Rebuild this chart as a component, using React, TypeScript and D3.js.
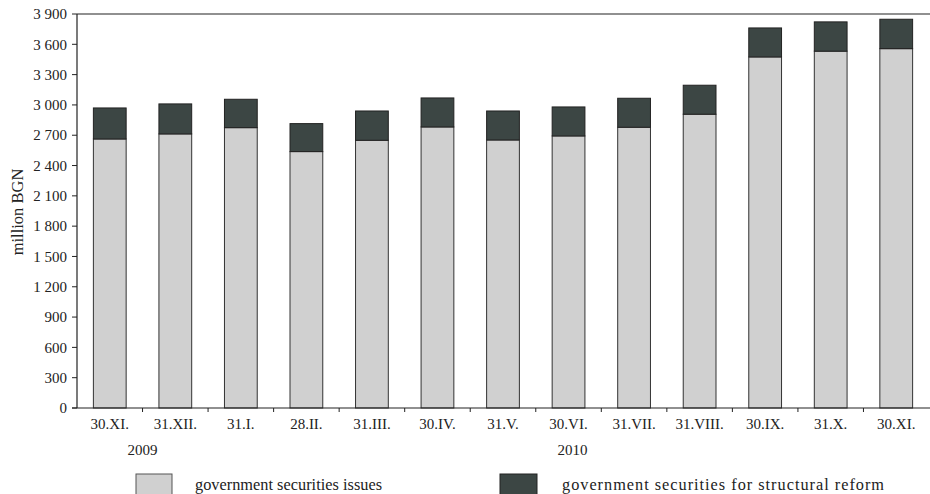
import React from "react";
import * as d3 from "d3";

const categories = ["30.XI.", "31.XII.", "31.I.", "28.II.", "31.III.", "30.IV.", "31.V.", "30.VI.", "31.VII.", "31.VIII.", "30.IX.", "31.X.", "30.XI."];
const issues = [2663, 2713, 2775, 2538, 2650, 2782, 2653, 2693, 2779, 2908, 3475, 3532, 3557];
const reform = [307, 297, 281, 277, 290, 287, 287, 287, 287, 287, 287, 290, 291];
const yTicks = [0, 300, 600, 900, 1200, 1500, 1800, 2100, 2400, 2700, 3000, 3300, 3600, 3900];
const seriesNames = ["government securities issues", "government securities for structural reform"];
const yearLabels = ["2009", "2010"];

const W = 930, H = 494;
const left = 77, right = 929, top = 14, bottom = 408;
const light = "#d0d0d0", dark = "#3c4644";
const font = "'Liberation Serif', 'Times New Roman', serif";

const fmt = (v: number) => {
  const s = String(v);
  return s.length > 3 ? s.slice(0, s.length - 3) + " " + s.slice(-3) : s;
};

export default function App() {
  const keys = categories.map((c, i) => c + i);
  const x = d3.scaleBand<string>().domain(keys).range([left, right]).paddingInner(0.5).paddingOuter(0.25);
  const y = d3.scaleLinear().domain([0, 3900]).range([bottom, top]);
  const step = x.step();
  const bw = x.bandwidth();
  return (
    <svg width={W} height={H} style={{ position: "absolute", left: 0, top: 0, background: "#fff" }} fontFamily={font}>
      <line x1={left} x2={right + 1} y1={top} y2={top} stroke="#222" strokeWidth={1.2} />
      {keys.map((k, i) => {
        const x0 = x(k)!;
        const t = issues[i] + reform[i];
        return (
          <g key={k}>
            <rect x={x0} y={y(issues[i])} width={bw} height={y(0) - y(issues[i])} fill={light} stroke="#333" strokeWidth={1} />
            <rect x={x0} y={y(t)} width={bw} height={y(issues[i]) - y(t)} fill={dark} stroke="#222" strokeWidth={1} />
          </g>
        );
      })}
      <line x1={left} x2={left} y1={top} y2={bottom} stroke="#222" strokeWidth={1.2} />
      {yTicks.map((t) => (
        <g key={t}>
          <line x1={left - 5} x2={left} y1={y(t)} y2={y(t)} stroke="#222" strokeWidth={1} />
          <text x={left - 10} y={y(t)} dy="0.35em" textAnchor="end" fontSize={15} fill="#222">{fmt(t)}</text>
        </g>
      ))}
      <line x1={left - 5} x2={right + 1} y1={bottom} y2={bottom} stroke="#222" strokeWidth={1.2} />
      {keys.map((k, i) => (
        <g key={"xt" + k}>
          {i > 0 && <line x1={left + step * i} x2={left + step * i} y1={bottom} y2={bottom + 4} stroke="#222" strokeWidth={1} />}
          <text x={x(k)! + bw / 2} y={bottom + 21} textAnchor="middle" fontSize={15} fill="#222">{categories[i]}</text>
        </g>
      ))}
      <text x={left + step * 1} y={bottom + 47} textAnchor="middle" fontSize={15} fill="#222">{yearLabels[0]}</text>
      <text x={x(keys[7])! + bw / 2 + 4} y={bottom + 47} textAnchor="middle" fontSize={15} fill="#222">{yearLabels[1]}</text>
      <text transform={`translate(23,212) rotate(-90)`} textAnchor="middle" fontSize={16.5} fill="#222">million BGN</text>
      <rect x={136} y={474} width={36} height={24} fill={light} stroke="#555" strokeWidth={1} />
      <text x={195} y={490} fontSize={16.3} fill="#222" textLength={187} lengthAdjust="spacing">{seriesNames[0]}</text>
      <rect x={500} y={474} width={37} height={24} fill={dark} stroke="#222" strokeWidth={1} />
      <text x={562} y={490} fontSize={16.3} fill="#222" textLength={322} lengthAdjust="spacing">{seriesNames[1]}</text>
    </svg>
  );
}
